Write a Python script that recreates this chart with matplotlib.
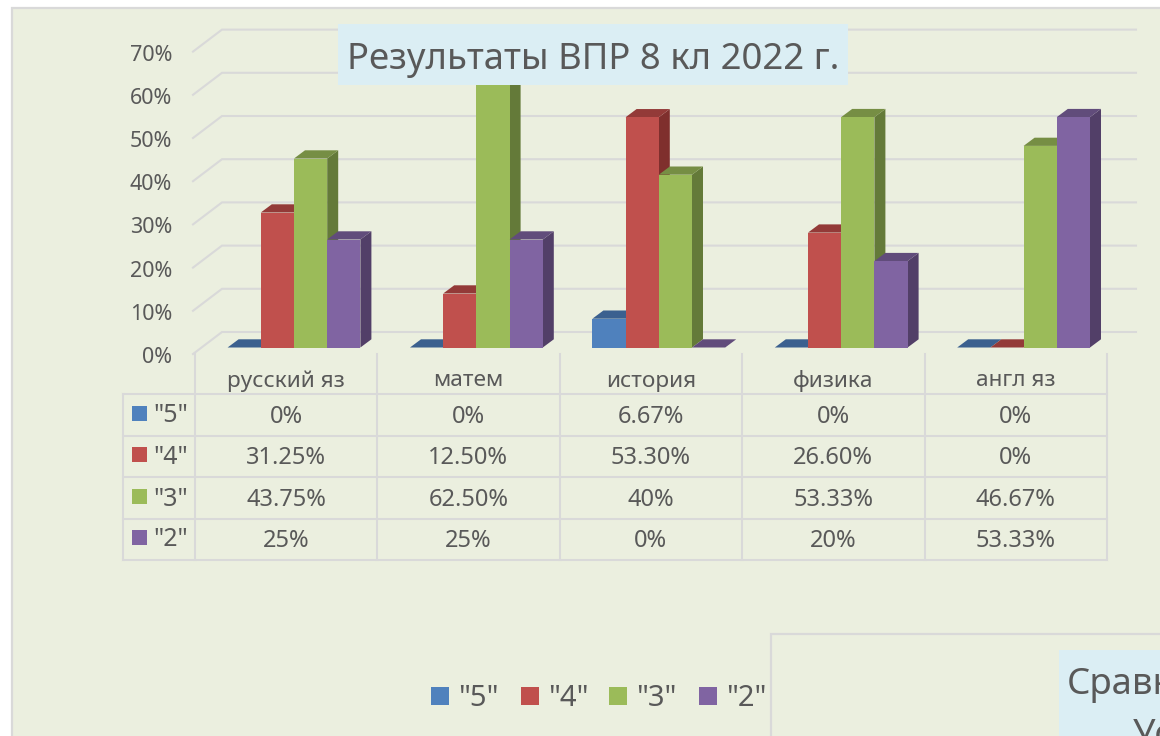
import matplotlib
matplotlib.use("Agg")
import matplotlib.pyplot as plt
from matplotlib.patches import Polygon, Rectangle

categories = ["русский яз", "матем", "история", "физика", "англ яз"]
series_names = ['"5"', '"4"', '"3"', '"2"']
values_5 = [0, 0, 6.67, 0, 0]
values_4 = [31.25, 12.5, 53.3, 26.6, 0]
values_3 = [43.75, 62.5, 40, 53.33, 46.67]
values_2 = [25, 25, 0, 20, 53.33]
labels_5 = ["0%", "0%", "6.67%", "0%", "0%"]
labels_4 = ["31.25%", "12.50%", "53.30%", "26.60%", "0%"]
labels_3 = ["43.75%", "62.50%", "40%", "53.33%", "46.67%"]
labels_2 = ["25%", "25%", "0%", "20%", "53.33%"]
y_ticks = [0, 10, 20, 30, 40, 50, 60, 70]

front = ["#4F81BD", "#C0504D", "#9BBB59", "#8064A2"]
top = ["#3B608F", "#933A38", "#768E44", "#614C7B"]
side = ["#2F4D72", "#7F2F2D", "#647A39", "#523F68"]
BG, GRID, TXT, BOX = "#EBEFDF", "#D9D9D9", "#595959", "#DBEEF4"
FONT = "Noto Sans"

W, H = 1160, 736
fig = plt.figure(figsize=(W / 100, H / 100), dpi=100, facecolor="white")

# overlay in pixel space for frame, table and legend
pg = fig.add_axes([0, 0, 1, 1], zorder=0)
pg.set_xlim(0, W); pg.set_ylim(H, 0); pg.axis("off")
pg.add_patch(Rectangle((12, 8), W, H, fc=BG, ec=GRID, lw=1.6))

# plot axes: front plane of the bars
X0, X1, Y0, Y70 = 195, 1107, 347.5, 45.1
ax = fig.add_axes([X0 / W, 1 - Y0 / H, (X1 - X0) / W, (Y0 - Y70) / H], zorder=1)
ax.patch.set_alpha(0)
for s in ax.spines.values():
    s.set_visible(False)
ppx = (X1 - X0) / 5
ppy = (Y0 - Y70) / 70

# wall gridlines
wall_x0, wall_x1 = (193 - X0) / ppx, (222 - X0) / ppx
wall_x2 = (1136 - X0) / ppx
wall_front = -(354 - Y0) / ppy
wall_back = (Y0 - 332) / ppy
label_x = (172 - X0) / ppx
label_drop = 3.5 / ppy
for v in y_ticks:
    ax.plot([wall_x0, wall_x1, wall_x2], [v + wall_front, v + wall_back, v + wall_back],
            color=GRID, lw=1.5, clip_on=False, zorder=1, solid_joinstyle="miter")
    ax.text(label_x, v + wall_front - label_drop, f"{v}%", ha="right", va="center", fontsize=15.5,
            color=TXT, family=FONT, clip_on=False)

ax.set_xticks([])
ax.set_yticks([])

# 3D bars
bw = 33.2 / ppx
start = (227.6 - X0) / ppx
dx, dy = 11 / ppx, 8.2 / ppy
all_values = [values_5, values_4, values_3, values_2]
z = 2
for j, vals in enumerate(all_values):
    for i, v in enumerate(vals):
        l = i + start + j * bw
        r = l + bw
        ax.add_patch(Polygon([(r, 0), (r + dx, dy), (r + dx, v + dy), (r, v)], fc=side[j], ec="none", zorder=z, clip_on=False))
        ax.add_patch(Polygon([(l, v), (l + dx, v + dy), (r + dx, v + dy), (r, v)], fc=top[j], ec="none", zorder=z, clip_on=False))
        z += 1
        ax.bar(l, v, width=bw, align="edge", color=front[j], ec="none", zorder=z, clip_on=False)
        z += 1
ax.set_xlim(0, 5); ax.set_ylim(0, 70)

# data table
row_y = [393.5, 435.5, 477, 518.5, 560]
col_x = [195 + i * 182.4 for i in range(6)]
for y in row_y:
    pg.plot([122.5, 1107], [y, y], color=GRID, lw=1.5)
pg.plot([122.5, 122.5], [393.5, 560], color=GRID, lw=1.5)
for x in col_x:
    pg.plot([x, x], [354, 560], color=GRID, lw=1.5)
for i, c in enumerate(categories):
    pg.text(col_x[i] + 91, 381, c, ha="center", va="center", fontsize=16.3, color=TXT, family=FONT)
rows = [labels_5, labels_4, labels_3, labels_2]
row_c = [417, 458, 500, 541]
for r, (name, lab) in enumerate(zip(series_names, rows)):
    pg.add_patch(Rectangle((132, row_c[r] - 11), 15, 15, fc=front[r], ec="none"))
    pg.text(153, row_c[r] - 1, name, ha="left", va="center", fontsize=18, color=TXT, family=FONT)
    for i, t in enumerate(lab):
        pg.text(col_x[i] + 91, row_c[r], t, ha="center", va="center", fontsize=17, color=TXT, family=FONT)

# legend
leg_x = [431, 521, 609, 699]
for x, name, col in zip(leg_x, series_names, front):
    pg.add_patch(Rectangle((x, 687), 18, 18, fc=col, ec="none"))
    pg.text(x + 27, 698, name, ha="left", va="center", fontsize=21, color=TXT, family=FONT)

# title box (above the plot)
tp = fig.add_axes([0, 0, 1, 1], zorder=5)
tp.set_xlim(0, W); tp.set_ylim(H, 0); tp.axis("off")
tp.add_patch(Rectangle((338, 24), 510, 61, fc=BOX, ec="none"))
tp.text(593, 60, "Результаты ВПР 8 кл 2022 г.", ha="center", va="center", fontsize=26.3, color=TXT, family=FONT)

# neighbouring chart, cut by the picture edge
tp.add_patch(Rectangle((771, 634), 500, 200, fc=BG, ec=GRID, lw=1.6))
tp.add_patch(Rectangle((1059, 650), 200, 100, fc=BOX, ec="none"))
tp.text(1067, 685, "Сравнение", ha="left", va="center", fontsize=26.3, color=TXT, family=FONT)
tp.text(1133, 736, "Ус", ha="left", va="center", fontsize=26.3, color=TXT, family=FONT)

fig.savefig("out.png", dpi=100)
